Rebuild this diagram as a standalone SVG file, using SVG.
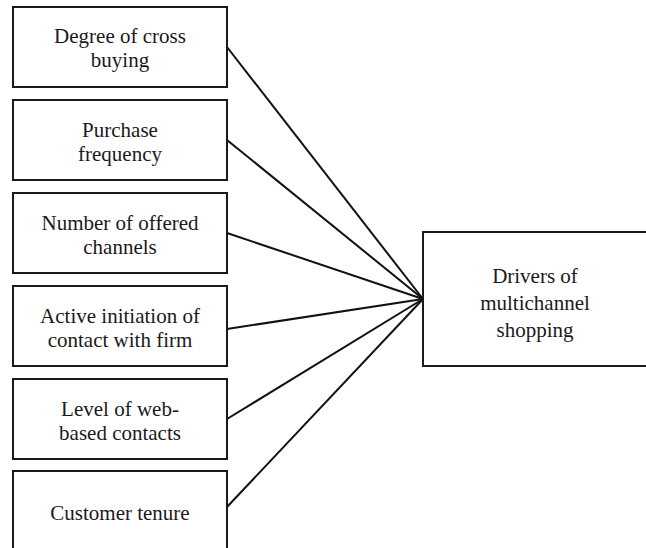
<svg xmlns="http://www.w3.org/2000/svg" width="646" height="548" viewBox="0 0 646 548">
  <style>
    .box { fill: #ffffff; stroke: #1a1a1a; stroke-width: 2; }
    .link { stroke: #111111; stroke-width: 2; fill: none; }
    .lbl { font-family: 'Liberation Serif', 'DejaVu Serif', serif; font-size: 21px; fill: #1a1a1a; text-anchor: middle; }
  </style>
  <rect width="646" height="548" fill="#ffffff"/>

  <!-- connectors: every factor feeds the outcome box at one point -->
  <g id="connectors">
    <line class="link" x1="227" y1="47" x2="423" y2="299"/>
    <line class="link" x1="227" y1="140" x2="423" y2="299"/>
    <line class="link" x1="227" y1="233" x2="423" y2="299"/>
    <line class="link" x1="227" y1="329" x2="423" y2="299"/>
    <line class="link" x1="227" y1="419" x2="423" y2="299"/>
    <line class="link" x1="227" y1="507" x2="423" y2="299"/>
  </g>

  <g id="cross-buying">
    <rect class="box" x="13" y="7" width="214" height="80"/>
    <text class="lbl" x="120" y="43">Degree of cross</text>
    <text class="lbl" x="120" y="67">buying</text>
  </g>

  <g id="purchase-frequency">
    <rect class="box" x="13" y="100" width="214" height="80"/>
    <text class="lbl" x="120" y="137">Purchase</text>
    <text class="lbl" x="120" y="161">frequency</text>
  </g>

  <g id="offered-channels">
    <rect class="box" x="13" y="193" width="214" height="80"/>
    <text class="lbl" x="120" y="230">Number of offered</text>
    <text class="lbl" x="120" y="254">channels</text>
  </g>

  <g id="active-initiation">
    <rect class="box" x="13" y="286" width="214" height="80"/>
    <text class="lbl" x="120" y="323">Active initiation of</text>
    <text class="lbl" x="120" y="347">contact with firm</text>
  </g>

  <g id="web-contacts">
    <rect class="box" x="13" y="379" width="214" height="80"/>
    <text class="lbl" x="120" y="416">Level of web-</text>
    <text class="lbl" x="120" y="440">based contacts</text>
  </g>

  <g id="customer-tenure">
    <rect class="box" x="13" y="471" width="214" height="80"/>
    <text class="lbl" x="120" y="520">Customer tenure</text>
  </g>

  <g id="multichannel-drivers">
    <rect class="box" x="423" y="232" width="224" height="134"/>
    <text class="lbl" x="535" y="283">Drivers of</text>
    <text class="lbl" x="535" y="310">multichannel</text>
    <text class="lbl" x="535" y="337">shopping</text>
  </g>
</svg>
